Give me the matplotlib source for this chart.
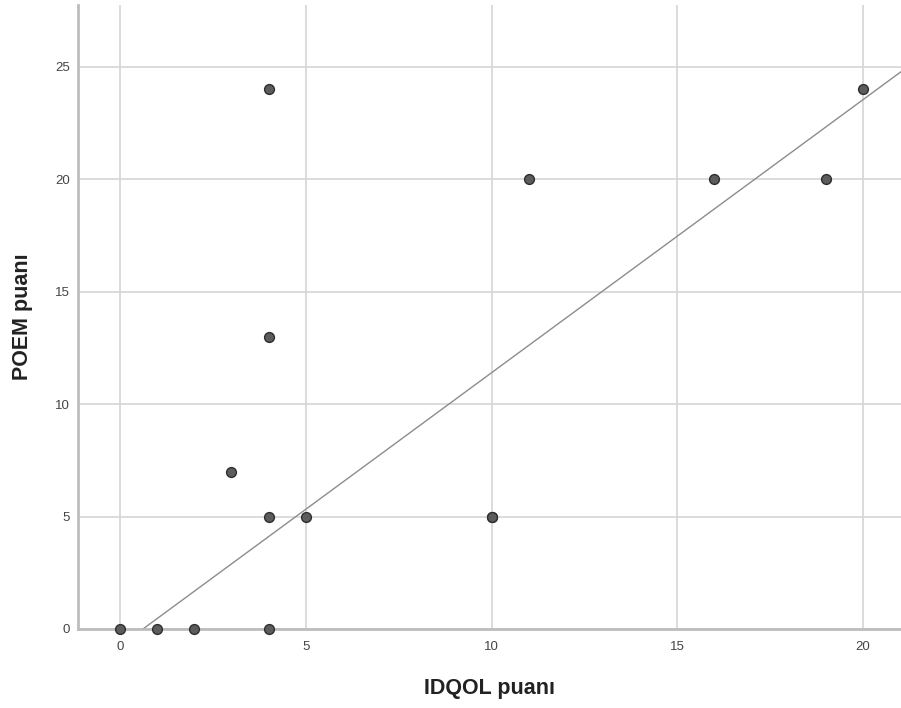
import numpy as np
import matplotlib.pyplot as plt

plt.rcParams["font.family"] = ["Liberation Sans", "DejaVu Sans"]

# IDQOL vs POEM scores
idqol = [0, 1, 2, 4, 4, 5, 3, 4, 4, 10, 10, 11, 16, 19, 20]
poem = [0, 0, 0, 0, 5, 5, 7, 13, 24, 5, 5, 20, 20, 20, 24]

# fit line
fit_intercept = -0.75
fit_slope = 1.215

x_ticks = [0, 5, 10, 15, 20]
y_ticks = [0, 5, 10, 15, 20, 25]

fig = plt.figure(figsize=(9.01, 7.08), dpi=100)
ax = fig.add_axes([0.0866, 0.1116, 0.9134, 0.8814])

ax.set_xlim(-1.13, 21.02)
ax.set_ylim(0, 27.76)

ax.grid(True, color="#d6d6d6", linewidth=1.2, zorder=0)
ax.set_axisbelow(True)

ax.axline((0, fit_intercept), slope=fit_slope, color="#8c8c8c", linewidth=1.0, zorder=2)

ax.scatter(idqol, poem, s=50, color="#5c5c5c", edgecolors="#2e2e2e",
           linewidths=1.0, zorder=3, clip_on=False)

ax.set_xticks(x_ticks)
ax.set_yticks(y_ticks)
ax.tick_params(axis="x", length=0, labelsize=9.5, labelcolor="#444444", pad=9)
ax.tick_params(axis="y", length=0, labelsize=9.5, labelcolor="#444444", pad=6)

for side in ["top", "right"]:
    ax.spines[side].set_visible(False)
for side in ["left", "bottom"]:
    ax.spines[side].set_color("#bdbdbd")
    ax.spines[side].set_linewidth(2)

ax.set_xlabel("IDQOL puanı", fontsize=15.5, fontweight="bold", color="#222222", labelpad=18)
ax.set_ylabel("POEM puanı", fontsize=15.5, fontweight="bold", color="#222222", labelpad=16)

fig.savefig("out.png", dpi=100)
